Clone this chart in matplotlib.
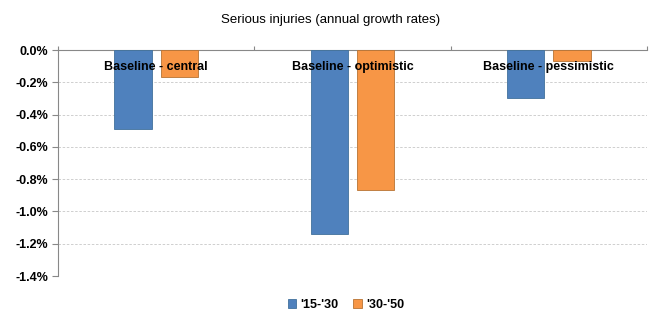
import numpy as np
import matplotlib.pyplot as plt
from matplotlib.ticker import FuncFormatter

# data (annual growth rates, %)
categories = ['Baseline - central', 'Baseline - optimistic', 'Baseline - pessimistic']
g_15_30 = [-0.49, -1.14, -0.30]
g_30_50 = [-0.167, -0.867, -0.07]
series_names = ["'15-'30", "'30-'50"]

plt.rcParams['font.family'] = ['Liberation Sans Narrow', 'Liberation Sans', 'DejaVu Sans']

fig = plt.figure(figsize=(6.65, 3.29), dpi=100)
ax = fig.add_axes([0.0872, 0.161, 0.8858, 0.687])

x = np.arange(len(categories))
w = 0.19
off = 0.118
ax.bar(x - off, g_15_30, w, color='#4F81BD', edgecolor='#41719C', linewidth=0.6, label=series_names[0], zorder=3)
ax.bar(x + off, g_30_50, w, color='#F79646', edgecolor='#B87333', linewidth=0.6, label=series_names[1], zorder=3)

for i, c in enumerate(categories):
    ax.text(i, -0.105, c, ha='center', va='center', fontsize=9, fontweight='bold', zorder=4)

ax.set_xlim(-0.5, len(categories) - 0.5)
ax.set_ylim(-1.4, 0)
ax.set_yticks(np.arange(-1.4, 0.01, 0.2))
ax.yaxis.set_major_formatter(FuncFormatter(lambda v, p: '%.1f%%' % (0.0 if abs(v) < 1e-9 else v)))
ax.yaxis.grid(True, color='#C8C8C8', linestyle=(0, (3, 2)), linewidth=0.6, zorder=0)
ax.tick_params(axis='y', labelsize=9, length=4, color='#888888', pad=3)
for lbl in ax.get_yticklabels():
    lbl.set_fontweight('bold')

# category axis sits at 0 (top)
ax.xaxis.tick_top()
ax.set_xticks(np.arange(-0.5, len(categories), 1.0))
ax.tick_params(axis='x', labeltop=False, length=3, color='#888888')
ax.spines['bottom'].set_visible(False)
ax.spines['right'].set_visible(False)
ax.spines['top'].set_color('#888888')
ax.spines['left'].set_color('#888888')

fig.text(0.497, 0.938, 'Serious injuries (annual growth rates)', ha='center', va='center', fontsize=9.5)

leg = fig.legend(loc='center', bbox_to_anchor=(0.52, 0.073), ncol=2, frameon=False,
                 fontsize=9, handlelength=0.7, handleheight=0.7, handletextpad=0.3, columnspacing=1.2)
for t in leg.get_texts():
    t.set_fontweight('bold')

fig.savefig('out.png', dpi=100)
